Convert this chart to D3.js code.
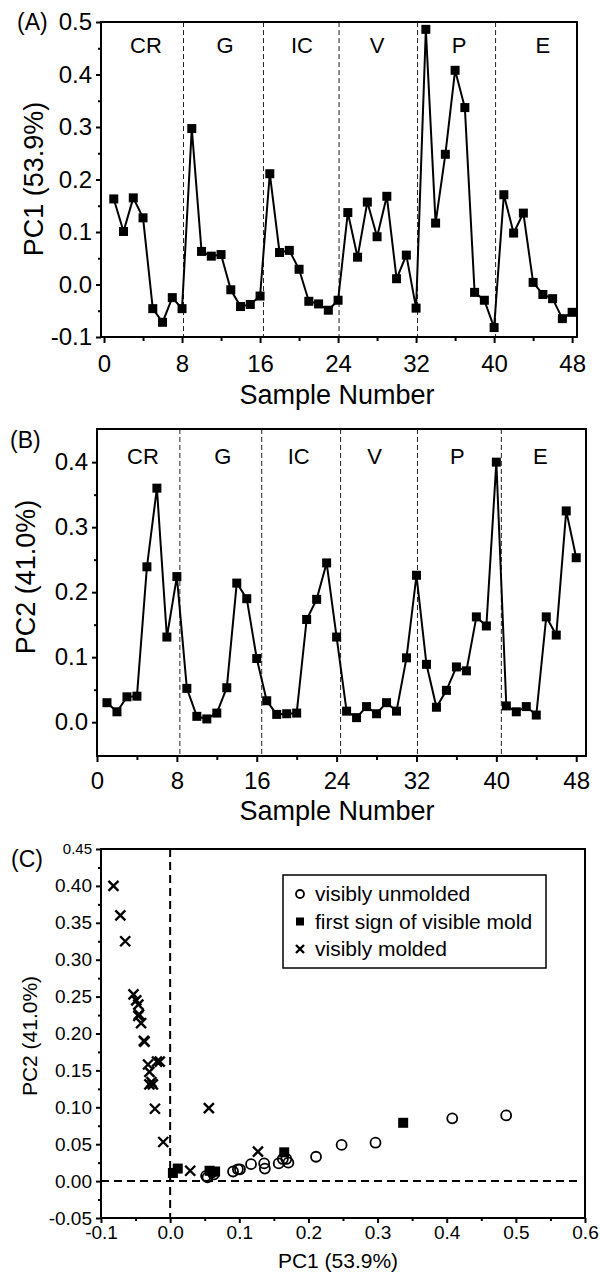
<!DOCTYPE html>
<html>
<head>
<meta charset="utf-8">
<script src="https://cdn.jsdelivr.net/npm/d3@7"></script>
<style>
  body { margin: 0; background: #fff; }
  text { font-family: "Liberation Sans", Arial, sans-serif; fill: #000; }
</style>
</head>
<body>
<div id="chart"></div>
<script>
// sample index 1..48, six substrates of eight samples each
const sampleNumbers = [1,2,3,4,5,6,7,8,9,10,11,12,13,14,15,16,17,18,19,20,21,22,23,24,
                       25,26,27,28,29,30,31,32,33,34,35,36,37,38,39,40,41,42,43,44,45,46,47,48];

const pc1 = [0.163, 0.101, 0.165, 0.127, -0.046, -0.072, -0.025, -0.046,
             0.297, 0.063, 0.054, 0.057, -0.010, -0.042, -0.038, -0.022,
             0.211, 0.061, 0.065, 0.029, -0.032, -0.037, -0.049, -0.030,
             0.137, 0.052, 0.157, 0.091, 0.168, 0.011, 0.056, -0.045,
             0.486, 0.117, 0.248, 0.408, 0.337, -0.015, -0.030, -0.082,
             0.171, 0.098, 0.136, 0.004, -0.019, -0.027, -0.065, -0.053];

const pc2 = [0.030, 0.016, 0.039, 0.040, 0.239, 0.360, 0.131, 0.224,
             0.052, 0.009, 0.005, 0.014, 0.053, 0.214, 0.190, 0.098,
             0.033, 0.012, 0.013, 0.014, 0.158, 0.189, 0.245, 0.131,
             0.017, 0.007, 0.024, 0.013, 0.030, 0.017, 0.099, 0.226,
             0.089, 0.023, 0.049, 0.085, 0.079, 0.162, 0.148, 0.400,
             0.025, 0.016, 0.024, 0.011, 0.162, 0.134, 0.325, 0.253];

// u = visibly unmolded, f = first sign of visible mold, m = visibly molded
const moldStatus = ['u','u','f','m','m','m','m','m',
                    'u','u','u','f','m','m','m','m',
                    'u','u','f','m','m','m','m','m',
                    'u','u','u','u','u','f','m','m',
                    'u','u','u','u','f','m','m','m',
                    'u','u','u','f','m','m','m','m'];

const regionNames = ['CR', 'G', 'IC', 'V', 'P', 'E'];
const pc1Separators = [8.15, 16.35, 24.1, 32.15, 40.15];
const pc1RegionCenters = [4.3, 12.4, 20.3, 28.0, 36.4, 45.0];
const pc2Separators = [8.3, 16.5, 24.4, 32.1, 40.5];
const pc2RegionCenters = [4.6, 12.6, 20.2, 27.8, 36.1, 44.4];

const sampleTicks = [0, 8, 16, 24, 32, 40, 48];
const sampleMinorTicks = [4, 12, 20, 28, 36, 44];
const pc1Ticks = [-0.1, 0.0, 0.1, 0.2, 0.3, 0.4, 0.5];
const pc1MinorTicks = [-0.05, 0.05, 0.15, 0.25, 0.35, 0.45];
const pc2Ticks = [0.0, 0.1, 0.2, 0.3, 0.4];
const pc2MinorTicks = [0.05, 0.15, 0.25, 0.35];

const scatterXTicks = [-0.1, 0.0, 0.1, 0.2, 0.3, 0.4, 0.5, 0.6];
const scatterXMinorTicks = [-0.05, 0.05, 0.15, 0.25, 0.35, 0.45, 0.55];
const scatterYTicks = [-0.05, 0.00, 0.05, 0.10, 0.15, 0.20, 0.25, 0.30, 0.35, 0.40, 0.45];
const scatterYMinorTicks = [-0.025, 0.025, 0.075, 0.125, 0.175, 0.225, 0.275, 0.325, 0.375, 0.425];

const legendKeys = ['u', 'f', 'm'];
const legendLabels = ['visibly unmolded', 'first sign of visible mold', 'visibly molded'];

const width = 600, height = 1273;

const svg = d3.select('#chart')
  .append('svg')
  .attr('width', width)
  .attr('height', height);

function styleAxis(g, fontSize) {
  g.select('.domain').remove();
  g.selectAll('.tick line').attr('stroke', '#000').attr('stroke-width', 2);
  g.selectAll('.tick text').attr('font-size', fontSize).attr('fill', '#000')
    .attr('font-family', '"Liberation Sans", Arial, sans-serif');
}

function linePanel(cfg) {
  const x = d3.scaleLinear().domain(cfg.xDomain).range([cfg.left, cfg.right]);
  const y = d3.scaleLinear().domain(cfg.yDomain).range([cfg.bottom, cfg.top]);
  const g = svg.append('g');

  g.selectAll('line.sep')
    .data(cfg.separators)
    .join('line')
    .attr('class', 'sep')
    .attr('x1', d => x(d)).attr('x2', d => x(d))
    .attr('y1', cfg.top).attr('y2', cfg.bottom)
    .attr('stroke', '#222')
    .attr('stroke-width', 1)
    .attr('stroke-dasharray', '5,3');

  g.selectAll('text.region')
    .data(regionNames)
    .join('text')
    .attr('class', 'region')
    .attr('x', (d, i) => x(cfg.regionCenters[i]))
    .attr('y', cfg.top + cfg.regionOffset)
    .attr('text-anchor', 'middle')
    .attr('font-size', 22)
    .text(d => d);

  const line = d3.line()
    .x((d, i) => x(sampleNumbers[i]))
    .y(d => y(d));

  g.append('path')
    .datum(cfg.values)
    .attr('d', line)
    .attr('fill', 'none')
    .attr('stroke', '#000')
    .attr('stroke-width', 2);

  g.selectAll('rect.pt')
    .data(cfg.values)
    .join('rect')
    .attr('class', 'pt')
    .attr('x', (d, i) => x(sampleNumbers[i]) - 4.5)
    .attr('y', d => y(d) - 4.5)
    .attr('width', 9)
    .attr('height', 9)
    .attr('fill', '#000');

  const xAxis = g.append('g')
    .attr('transform', `translate(0,${cfg.bottom})`)
    .call(d3.axisBottom(x).tickValues(sampleTicks).tickSize(6).tickPadding(cfg.xPad));
  styleAxis(xAxis, 24);
  const xMinor = g.append('g')
    .attr('transform', `translate(0,${cfg.bottom})`)
    .call(d3.axisBottom(x).tickValues(sampleMinorTicks).tickSize(4).tickFormat(''));
  styleAxis(xMinor, 24);

  const yAxis = g.append('g')
    .attr('transform', `translate(${cfg.left},0)`)
    .call(d3.axisLeft(y).tickValues(cfg.yTicks).tickSize(5).tickPadding(4)
      .tickFormat(d => d.toFixed(1)));
  styleAxis(yAxis, 24);
  const yMinor = g.append('g')
    .attr('transform', `translate(${cfg.left},0)`)
    .call(d3.axisLeft(y).tickValues(cfg.yMinorTicks).tickSize(3).tickFormat(''));
  styleAxis(yMinor, 24);

  g.append('rect')
    .attr('x', cfg.left).attr('y', cfg.top)
    .attr('width', cfg.right - cfg.left)
    .attr('height', cfg.bottom - cfg.top)
    .attr('fill', 'none')
    .attr('stroke', '#000')
    .attr('stroke-width', 2);

  g.append('text')
    .attr('x', cfg.labelX).attr('y', cfg.labelY)
    .attr('font-size', 23)
    .text(cfg.label);

  g.append('text')
    .attr('transform', `translate(${cfg.yTitleX},${cfg.yTitleY}) rotate(-90)`)
    .attr('text-anchor', 'middle')
    .attr('font-size', 27)
    .text(cfg.yTitle);

  g.append('text')
    .attr('x', 337).attr('y', cfg.xTitleY)
    .attr('text-anchor', 'middle')
    .attr('font-size', 27)
    .text('Sample Number');
}

linePanel({
  values: pc1, label: '(A)', labelX: 17, labelY: 30,
  left: 101, right: 577, top: 22, bottom: 337,
  xDomain: [-0.31, 48.5], yDomain: [-0.1, 0.5],
  yTicks: pc1Ticks, yMinorTicks: pc1MinorTicks,
  separators: pc1Separators, regionCenters: pc1RegionCenters, regionOffset: 31,
  xPad: 12, yTitle: 'PC1 (53.9%)', yTitleX: 43, yTitleY: 179, xTitleY: 404
});

linePanel({
  values: pc2, label: '(B)', labelX: 10, labelY: 448,
  left: 97, right: 586, top: 429, bottom: 756,
  xDomain: [0, 48.98], yDomain: [-0.052, 0.451],
  yTicks: pc2Ticks, yMinorTicks: pc2MinorTicks,
  separators: pc2Separators, regionCenters: pc2RegionCenters, regionOffset: 35,
  xPad: 10, yTitle: 'PC2 (41.0%)', yTitleX: 35, yTitleY: 577, xTitleY: 820
});

// (C) PC1 vs PC2 score plot
(function() {
  const left = 101, right = 585, top = 849, bottom = 1218;
  const x = d3.scaleLinear().domain([-0.1, 0.6]).range([left, right]);
  const y = d3.scaleLinear().domain([-0.05, 0.45]).range([bottom, top]);
  const g = svg.append('g');

  g.append('line')
    .attr('x1', x(0)).attr('x2', x(0)).attr('y1', top).attr('y2', bottom)
    .attr('stroke', '#000').attr('stroke-width', 2).attr('stroke-dasharray', '8,5');
  g.append('line')
    .attr('x1', left).attr('x2', right - 8).attr('y1', y(0)).attr('y2', y(0))
    .attr('stroke', '#000').attr('stroke-width', 2).attr('stroke-dasharray', '8,5');

  const points = sampleNumbers.map((s, i) => ({ x: pc1[i], y: pc2[i], status: moldStatus[i] }));

  function drawMarker(sel, status, size) {
    if (status === 'u') {
      sel.append('circle').attr('r', size / 2)
        .attr('fill', 'none').attr('stroke', '#000').attr('stroke-width', 1.8);
    } else if (status === 'f') {
      sel.append('rect').attr('x', -size / 2).attr('y', -size / 2)
        .attr('width', size).attr('height', size).attr('fill', '#000');
    } else {
      const h = size / 2;
      sel.append('path').attr('d', `M${-h},${-h}L${h},${h}M${-h},${h}L${h},${-h}`)
        .attr('stroke', '#000').attr('stroke-width', 2.4).attr('fill', 'none');
    }
  }

  g.selectAll('g.pt')
    .data(points)
    .join('g')
    .attr('class', 'pt')
    .attr('transform', d => `translate(${x(d.x)},${y(d.y)})`)
    .each(function(d) { drawMarker(d3.select(this), d.status, 10); });

  const xAxis = g.append('g')
    .attr('transform', `translate(0,${bottom})`)
    .call(d3.axisBottom(x).tickValues(scatterXTicks).tickSize(5).tickPadding(3)
      .tickFormat(d => d.toFixed(1)));
  styleAxis(xAxis, 19);
  const xMinor = g.append('g')
    .attr('transform', `translate(0,${bottom})`)
    .call(d3.axisBottom(x).tickValues(scatterXMinorTicks).tickSize(3).tickFormat(''));
  styleAxis(xMinor, 19);

  const yAxis = g.append('g')
    .attr('transform', `translate(${left},0)`)
    .call(d3.axisLeft(y).tickValues(scatterYTicks).tickSize(5).tickPadding(4)
      .tickFormat(d => d.toFixed(2)));
  styleAxis(yAxis, 19);
  yAxis.selectAll('.tick text').filter(d => d === 0.45).attr('font-size', 15);
  const yMinor = g.append('g')
    .attr('transform', `translate(${left},0)`)
    .call(d3.axisLeft(y).tickValues(scatterYMinorTicks).tickSize(3).tickFormat(''));
  styleAxis(yMinor, 19);

  g.append('rect')
    .attr('x', left).attr('y', top)
    .attr('width', right - left).attr('height', bottom - top)
    .attr('fill', 'none').attr('stroke', '#000').attr('stroke-width', 2);

  // legend
  const legend = g.append('g').attr('transform', 'translate(283,875)');
  legend.append('rect')
    .attr('width', 263).attr('height', 93)
    .attr('fill', '#fff').attr('stroke', '#000').attr('stroke-width', 1.5);
  const items = legend.selectAll('g.item')
    .data(legendKeys)
    .join('g')
    .attr('class', 'item')
    .attr('transform', (d, i) => `translate(0,${19 + i * 27.5})`);
  items.each(function(d) {
    const m = d3.select(this).append('g').attr('transform', 'translate(17,0)');
    drawMarker(m, d, 8);
  });
  items.append('text')
    .attr('x', 32).attr('y', 7)
    .attr('font-size', 21)
    .text((d, i) => legendLabels[i]);

  g.append('text')
    .attr('x', 11).attr('y', 867)
    .attr('font-size', 23)
    .text('(C)');

  g.append('text')
    .attr('transform', `translate(37,1036) rotate(-90)`)
    .attr('text-anchor', 'middle')
    .attr('font-size', 21)
    .text('PC2 (41.0%)');

  g.append('text')
    .attr('x', 338).attr('y', 1268)
    .attr('text-anchor', 'middle')
    .attr('font-size', 21)
    .text('PC1 (53.9%)');
})();
</script>
</body>
</html>
